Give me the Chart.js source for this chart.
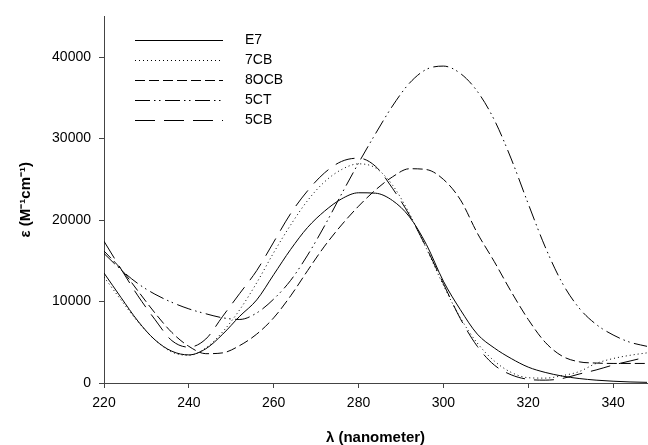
<!DOCTYPE html>
<html>
<head>
<meta charset="utf-8">
<script src="https://cdn.jsdelivr.net/npm/chart.js@4/dist/chart.umd.min.js"></script>
<style>
html,body{margin:0;padding:0;background:#fff;}
#wrap{width:648px;height:445px;}
</style>
</head>
<body>
<div id="wrap"><canvas id="c" width="648" height="445"></canvas></div>
<script>
const wavelengths = [220,224,228,232,236,240,244,248,252,256,260,264,268,272,276,280,284,288,292,296,300,304,308,312,316,320,324,328,332,336,340,344,348];
const e7   = [13500,10500,7600,5300,3900,3450,4200,6000,8200,10200,13300,16400,19100,21100,22600,23350,23300,22400,20400,17000,12500,9000,6000,4300,3000,1950,1300,850,550,350,220,130,80];
const cb7  = [13000,10200,7500,5300,3800,3400,4300,6300,9000,12300,16000,19400,22400,24700,26200,26900,26400,24300,20800,16500,12000,8000,4900,2700,1300,650,600,900,1400,2400,3000,3400,3700];
const ocb8 = [16200,14000,11300,8600,6200,4500,3600,3700,4600,6000,8000,10700,13800,16800,19400,21700,23700,25300,26300,26200,25000,22500,18400,14900,11200,7800,5000,3300,2600,2450,2400,2400,2400];
const ct5  = [15900,13900,12200,10900,9900,9100,8500,8000,7800,8600,10300,12600,15700,19300,23200,27000,30600,34000,36800,38500,38900,38000,35800,32300,27500,22000,16700,12300,9200,7200,5900,5000,4500];
const cb5  = [17400,14000,10700,7800,5200,4400,5400,8200,11000,13800,17300,20800,23600,25800,27200,27600,26600,23900,20600,16600,12200,7900,4500,2200,1000,450,350,550,1100,1600,2200,2700,3200];
const seriesNames = ['E7','7CB','8OCB','5CT','5CB'];
const xTicks = [220,240,260,280,300,320,340];
const yTicks = [0,10000,20000,30000,40000];

const dashes = [[], [1,3], [10,4], [15,4,1.5,3.5,1.5,4.5], [20,9]];
const allSeries = [e7, cb7, ocb8, ct5, cb5];

const FONT = '"Liberation Sans", Arial, sans-serif';

const datasets = allSeries.map((vals, i) => ({
  label: seriesNames[i],
  data: wavelengths.map((w, k) => ({x: w, y: vals[k]})),
  borderColor: '#000',
  borderWidth: 1,
  borderDash: dashes[i],
  pointRadius: 0,
  fill: false,
  cubicInterpolationMode: 'monotone'
}));

const legendPlugin = {
  id: 'customLegend',
  afterDatasetsDraw(chart) {
    const ctx = chart.ctx;
    ctx.save();
    chart.data.datasets.forEach((ds, i) => {
      const y = 40 + i * 20;
      ctx.beginPath();
      ctx.setLineDash(ds.borderDash || []);
      ctx.strokeStyle = '#000';
      ctx.lineWidth = 1;
      ctx.moveTo(135, y + 0.5);
      ctx.lineTo(223, y + 0.5);
      ctx.stroke();
      ctx.setLineDash([]);
      ctx.fillStyle = '#000';
      ctx.font = '14px ' + FONT;
      ctx.textBaseline = 'middle';
      ctx.textAlign = 'left';
      ctx.fillText(ds.label, 245, y);
    });
    ctx.restore();
  }
};

new Chart(document.getElementById('c'), {
  type: 'line',
  data: { datasets },
  plugins: [legendPlugin],
  options: {
    responsive: false,
    animation: false,
    layout: { padding: { top: 13, right: 1, left: 0, bottom: 0 } },
    plugins: { legend: { display: false }, tooltip: { enabled: false } },
    scales: {
      x: {
        type: 'linear',
        min: 220, max: 348,
        afterFit: (s) => { s.height = 62; },
        afterBuildTicks: (s) => { s.ticks = xTicks.map(v => ({value: v})); },
        ticks: { color: '#000', font: { family: FONT, size: 14 }, padding: 7, maxRotation: 0,
                 callback: (v) => String(v) },
        grid: { display: true, drawOnChartArea: false, drawTicks: true, tickLength: 5, color: '#444' },
        border: { display: true, color: '#444', width: 1 },
        title: { display: true, text: 'λ (nanometer)', color: '#000',
                 font: { family: FONT, size: 15, weight: 'bold', lineHeight: 1 }, padding: { top: 0, bottom: 0 } }
      },
      y: {
        type: 'linear',
        min: 0, max: 45000,
        afterFit: (s) => { s.width = 104; },
        afterBuildTicks: (s) => { s.ticks = yTicks.map(v => ({value: v})); },
        ticks: { color: '#000', font: { family: FONT, size: 14 }, padding: 8,
                 callback: (v) => String(v) },
        grid: { display: true, drawOnChartArea: false, drawTicks: true, tickLength: 5, color: '#444' },
        border: { display: true, color: '#444', width: 1 },
        title: { display: true, text: 'ε (M⁻¹cm⁻¹)', color: '#000',
                 font: { family: FONT, size: 15, weight: 'bold', lineHeight: 1.2 }, padding: { top: 17, bottom: 0 } }
      }
    }
  }
});
</script>
</body>
</html>
